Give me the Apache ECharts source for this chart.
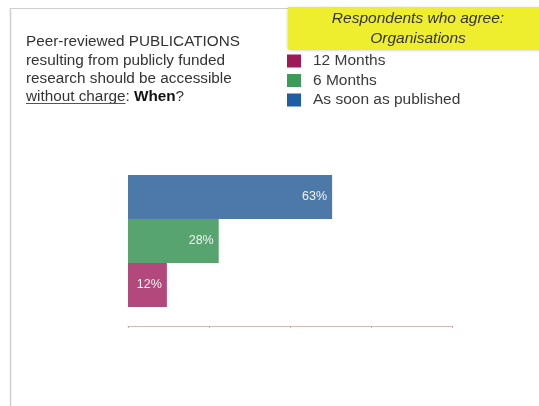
<!DOCTYPE html>
<html>
<head>
<meta charset="utf-8">
<script src="https://cdn.jsdelivr.net/npm/echarts@6/dist/echarts.min.js"></script>
<style>
  html, body { margin: 0; padding: 0; background: #fff; }
  #chart { width: 539px; height: 406px; }
</style>
</head>
<body>
<div id="chart"></div>
<script>
var categories = ['12 Months', '6 Months', 'As soon as published'];
var agreePct = [12, 28, 63];
var barColors = ['#b3487c', '#58a46e', '#4d79a8'];
var legendColors = ['#9c1a58', '#3e9a58', '#1f5ea3'];
var xTicks = [0, 25, 50, 75, 100];

var titleFont = '15.3px "Liberation Sans"';

// width of the underlined words, so the underline follows the text
function textWidth(str, font) {
	var ctx = document.createElement('canvas').getContext('2d');
	ctx.font = font;
	return ctx.measureText(str).width;
}

var chart = echarts.init(document.getElementById('chart'));

// one series per category, stacked so they sit in the same slot
var series = categories.map(function (name, i) {
	return {
		name: name,
		type: 'bar',
		stack: 'all',
		barWidth: 44,
		itemStyle: { color: barColors[i] },
		label: {
			show: true,
			position: 'insideRight',
			distance: 5,
			color: '#f4f4f4',
			fontSize: 12.5,
			fontFamily: 'Liberation Sans',
			formatter: '{c}%'
		},
		data: categories.map(function (c, j) { return j === i ? agreePct[i] : '-'; })
	};
});

var underlineW = textWidth('without charge', titleFont);

var option = {
	backgroundColor: '#fff',
	animation: false,
	grid: { left: 128, right: 87, top: 175, height: 132 },
	xAxis: {
		type: 'value',
		min: xTicks[0],
		max: xTicks[xTicks.length - 1],
		interval: 25,
		offset: 19,
		axisLine: { show: true, lineStyle: { color: '#d8b8b2', width: 1 } },
		axisTick: { show: true, length: 2, lineStyle: { color: '#c8b0aa' } },
		axisLabel: { show: false },
		splitLine: { show: false }
	},
	yAxis: {
		type: 'category',
		data: categories,
		show: false
	},
	legend: {
		orient: 'vertical',
		left: 282,
		top: 48,
		itemWidth: 14,
		itemHeight: 13,
		itemGap: 3.5,
		icon: 'rect',
		textStyle: { fontSize: 15.5, lineHeight: 16, color: '#3a3a3a', fontFamily: 'Liberation Sans', padding: [0, 0, 0, 7] },
		data: categories.map(function (c, i) {
			return { name: c, itemStyle: { color: legendColors[i] } };
		})
	},
	graphic: [
		{ type: 'line', shape: { x1: 10.5, y1: 8, x2: 10.5, y2: 406 }, style: { stroke: '#cfcfcf', lineWidth: 1.5 } },
		{ type: 'line', shape: { x1: 10, y1: 8.5, x2: 290, y2: 8.5 }, style: { stroke: '#cfcfcf', lineWidth: 1 } },
		{ type: 'rect', shape: { x: 288, y: 7, width: 260, height: 42 }, style: { fill: '#eeee2e', shadowBlur: 3, shadowColor: 'rgba(0,0,0,0.25)', shadowOffsetY: 1 } },
		{
			type: 'text',
			style: {
				text: 'Respondents who agree:\nOrganisations',
				x: 418, y: 9,
				textAlign: 'center',
				textVerticalAlign: 'top',
				font: 'italic 15.5px "Liberation Sans"',
				fill: '#333', lineHeight: 20
			}
		},
		{
			type: 'text',
			style: {
				text: 'Peer-reviewed PUBLICATIONS\nresulting from publicly funded\nresearch should be accessible\n{u|without charge}: {b|When}?',
				x: 26, y: 33,
				textVerticalAlign: 'top',
				font: titleFont,
				fill: '#333',
				lineHeight: 18.3,
				rich: {
					u: { fontSize: 15.3, fontFamily: 'Liberation Sans', fill: '#333' },
					b: { fontSize: 15.3, fontFamily: 'Liberation Sans', fontWeight: 'bold', fill: '#111' }
				}
			}
		},
		{ type: 'line', shape: { x1: 26, y1: 103.5, x2: 26 + underlineW, y2: 103.5 }, style: { stroke: '#555', lineWidth: 1 } }
	],
	series: series
};

chart.setOption(option);
</script>
</body>
</html>
